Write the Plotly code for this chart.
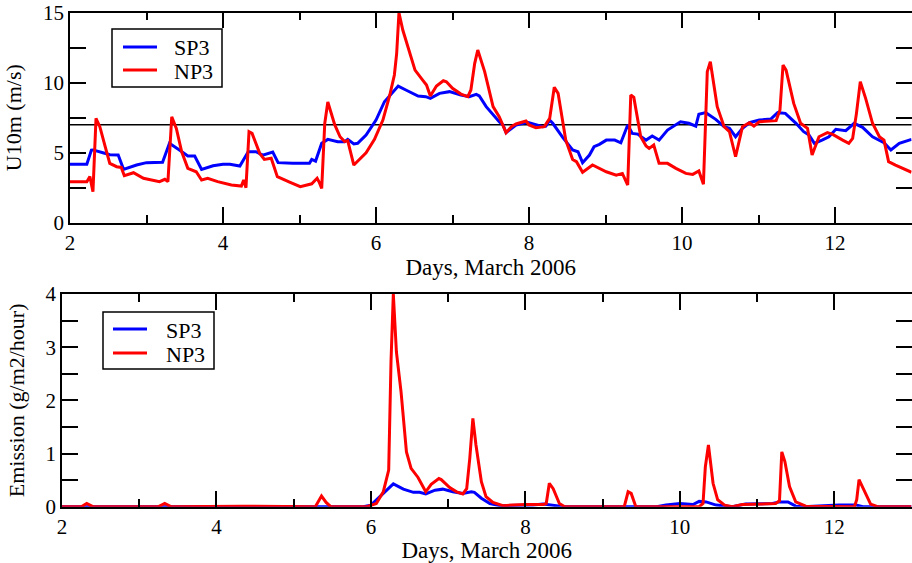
import plotly.graph_objects as go

# ---------------- data ----------------
sp3_u_days = [2.0, 2.22, 2.28, 2.30, 2.43, 2.52, 2.63, 2.70, 2.87, 3.0, 3.21, 3.30, 3.43, 3.54, 3.63,
              3.72, 3.87, 4.0, 4.09, 4.22, 4.33, 4.43, 4.52, 4.61, 4.65, 4.72, 4.91, 5.13, 5.16, 5.21,
              5.29, 5.37, 5.50, 5.59, 5.63, 5.71, 5.76, 5.87, 6.0, 6.11, 6.29, 6.39, 6.55, 6.65, 6.71,
              6.83, 6.96, 7.11, 7.22, 7.31, 7.35, 7.44, 7.55, 7.61, 7.66, 7.70, 7.83, 7.98, 8.18, 8.22,
              8.27, 8.31, 8.44, 8.57, 8.64, 8.70, 8.79, 8.85, 8.92, 9.01, 9.12, 9.20, 9.29, 9.35, 9.42,
              9.53, 9.61, 9.70, 9.81, 9.98, 10.09, 10.18, 10.22, 10.31, 10.44, 10.55, 10.62, 10.70,
              10.79, 10.88, 11.01, 11.16, 11.25, 11.35, 11.49, 11.59, 11.66, 11.73, 11.83, 11.92,
              12.01, 12.14, 12.25, 12.36, 12.49, 12.60, 12.64, 12.73, 12.84, 13.0]
sp3_u10 = [4.17, 4.17, 5.19, 5.20, 5.0, 4.85, 4.83, 3.81, 4.12, 4.29, 4.31, 5.67, 5.19, 4.76, 4.76,
           3.81, 4.07, 4.17, 4.17, 4.05, 5.07, 5.07, 4.83, 5.0, 5.05, 4.29, 4.24, 4.24, 4.52, 4.40,
           5.67, 5.95, 5.79, 5.79, 5.95, 5.62, 5.67, 6.26, 7.33, 8.64, 9.76, 9.48, 9.05, 9.0, 8.88,
           9.24, 9.36, 9.12, 9.0, 9.17, 9.05, 8.29, 7.57, 7.21, 6.98, 6.43, 6.98, 7.17, 6.86, 6.9,
           7.33, 7.1, 6.10, 5.19, 5.07, 4.29, 4.83, 5.43, 5.6, 5.9, 5.9, 5.71, 6.98, 6.38, 6.33,
           5.9, 6.19, 5.9, 6.62, 7.21, 7.1, 6.9, 7.75, 7.86, 7.38, 6.86, 6.74, 6.14,
           6.74, 7.14, 7.33, 7.4, 7.86, 7.81, 7.10, 6.5, 6.26, 5.67, 5.9, 6.14,
           6.67, 6.57, 7.10, 6.81, 6.14, 5.79, 5.71, 5.19, 5.67, 5.95]

np3_u_days = [2.0, 2.22, 2.26, 2.30, 2.34, 2.39, 2.46, 2.52, 2.61, 2.67, 2.71, 2.83, 2.96, 3.17, 3.24,
              3.28, 3.33, 3.39, 3.46, 3.54, 3.65, 3.72, 3.80, 3.93, 4.11, 4.24, 4.27, 4.30, 4.34, 4.38,
              4.48, 4.54, 4.63, 4.71, 4.87, 5.01, 5.16, 5.23, 5.26, 5.29, 5.33, 5.37, 5.46, 5.53, 5.59,
              5.63, 5.71, 5.87, 5.98, 6.09, 6.18, 6.24, 6.27, 6.30, 6.35, 6.51, 6.61, 6.66, 6.71, 6.79,
              6.88, 6.92, 7.00, 7.11, 7.20, 7.24, 7.29, 7.33, 7.42, 7.53, 7.61, 7.66, 7.70, 7.77, 7.83,
              7.96, 8.0, 8.09, 8.20, 8.27, 8.33, 8.38, 8.48, 8.57, 8.62, 8.70, 8.83, 9.01, 9.14, 9.22,
              9.29, 9.33, 9.37, 9.46, 9.53, 9.57, 9.63, 9.70, 9.81, 9.92, 10.05, 10.14, 10.22, 10.28,
              10.33, 10.37, 10.46, 10.55, 10.62, 10.70, 10.79, 10.88, 10.94, 11.01, 11.23, 11.28,
              11.32, 11.36, 11.46, 11.55, 11.64, 11.70, 11.79, 11.90, 11.97, 12.10, 12.18, 12.23,
              12.28, 12.33, 12.40, 12.49, 12.58, 12.64, 12.70, 12.79, 13.0]
np3_u10 = [2.93, 2.93, 3.29, 2.21, 7.45, 6.86, 5.43, 4.24, 4.0, 3.95, 3.36, 3.57, 3.17, 2.93, 3.1,
           2.93, 7.57, 6.74, 5.07, 3.88, 3.64, 3.05, 3.17, 2.93, 2.69, 2.62, 3.05, 2.5, 6.5, 6.38,
           4.95, 4.52, 4.6, 3.29, 2.90, 2.57, 2.78, 3.17, 2.86, 2.45, 7.1, 8.62, 7.0, 6.14, 5.79,
           5.86, 4.12, 5.0, 5.95, 7.33, 9.12, 10.55, 12.1, 15.0, 13.76, 10.9, 10.19, 9.83, 9.05, 9.76,
           10.14, 10.07, 9.6, 9.19, 9.0, 9.48, 11.38, 12.33, 10.79, 8.29, 7.57, 6.98, 6.43, 6.86, 7.05,
           7.26, 6.98, 6.79, 6.86, 7.45, 9.67, 9.24, 5.90, 4.52, 4.36, 3.6, 4.12, 3.64, 3.40, 3.52,
           2.69, 9.12, 8.95, 6.14, 5.48, 5.31, 5.55, 4.24, 4.24, 3.88, 3.52, 3.45, 3.69, 2.75,
           10.79, 11.5, 8.29, 6.86, 6.5, 4.71, 6.86, 7.14, 6.9, 7.21, 7.29, 8.05,
           11.26, 10.9, 8.52, 7.10, 6.74, 4.83, 6.14, 6.43, 6.31, 5.90, 5.67, 6.02,
           7.81, 10.07, 8.88, 7.10, 6.14, 5.90, 4.36, 4.12, 3.6]

sp3_e_days = [2.0, 5.9, 6.0, 6.12, 6.20, 6.29, 6.42, 6.55, 6.63, 6.71, 6.83, 6.93, 7.06, 7.19, 7.30,
              7.34, 7.43, 7.54, 7.67, 7.9, 8.1, 8.23, 8.35, 8.5, 9.7, 9.82, 10.0, 10.17, 10.25, 10.34,
              10.47, 10.68, 10.85, 11.20, 11.29, 11.40, 11.50, 11.6, 12.06, 12.28, 12.37, 13.0]
sp3_emis = [0.0, 0.0, 0.03, 0.19, 0.31, 0.43, 0.33, 0.27, 0.27, 0.24, 0.31, 0.33, 0.28, 0.25, 0.28,
            0.27, 0.16, 0.06, 0.02, 0.03, 0.03, 0.05, 0.03, 0.0, 0.0, 0.03, 0.06, 0.04, 0.10, 0.09,
            0.03, 0.0, 0.05, 0.06, 0.09, 0.09, 0.01, 0.0, 0.03, 0.03, 0.0, 0.0]

np3_e_days = [2.0, 2.25, 2.32, 2.40, 3.25, 3.33, 3.41, 4.34, 5.28, 5.31, 5.36, 5.42, 5.48, 5.95, 6.0,
              6.07, 6.16, 6.23, 6.26, 6.29, 6.33, 6.39, 6.46, 6.52, 6.61, 6.71, 6.78, 6.88, 6.91, 7.02,
              7.11, 7.19, 7.24, 7.28, 7.32, 7.36, 7.43, 7.49, 7.58, 7.71, 7.84, 8.0, 8.23, 8.27, 8.31,
              8.36, 8.44, 8.51, 9.28, 9.33, 9.37, 9.43, 10.25, 10.30, 10.33, 10.37, 10.43, 10.49,
              10.58, 10.68, 10.81, 11.24, 11.29, 11.32, 11.36, 11.42, 11.50, 11.63, 12.26, 12.29,
              12.32, 12.39, 12.47, 12.56, 13.0]
np3_emis = [0.0, 0.0, 0.06, 0.0, 0.0, 0.06, 0.0, 0.01, 0.0, 0.07, 0.2, 0.08, 0.0, 0.0, 0.02,
            0.06, 0.28, 0.69, 2.73, 4.0, 2.91, 2.16, 1.03, 0.72, 0.55, 0.28, 0.42, 0.53, 0.51, 0.36,
            0.28, 0.24, 0.34, 0.91, 1.66, 1.16, 0.47, 0.19, 0.08, 0.02, 0.03, 0.04, 0.04, 0.06, 0.44,
            0.34, 0.06, 0.0, 0.0, 0.28, 0.25, 0.0, 0.0, 0.06, 0.75, 1.16, 0.44, 0.13,
            0.03, 0.0, 0.04, 0.06, 0.11, 1.03, 0.85, 0.38, 0.09, 0.01, 0.0, 0.13,
            0.51, 0.31, 0.05, 0.0, 0.0]

series_names = ["SP3", "NP3"]
threshold = 7
x_title = "Days, March 2006"
y1_title = "U10m (m/s)"
y2_title = "Emission (g/m2/hour)"

# ---------------- figure ----------------
W, H = 912, 563
FONT = "Liberation Serif"
BLUE, RED = "#0000ff", "#ff0000"
COLORS = [BLUE, RED]


def px_x(p):
    return p / W


def px_y(p):
    return 1 - p / H


fig = go.Figure()
fig.add_trace(go.Scatter(x=sp3_u_days, y=sp3_u10, name=series_names[0], mode="lines",
                         line=dict(color=BLUE, width=3), xaxis="x", yaxis="y", showlegend=False))
fig.add_trace(go.Scatter(x=np3_u_days, y=np3_u10, name=series_names[1], mode="lines",
                         line=dict(color=RED, width=3), xaxis="x", yaxis="y", showlegend=False))
fig.add_trace(go.Scatter(x=sp3_e_days, y=sp3_emis, name=series_names[0], mode="lines",
                         line=dict(color=BLUE, width=3), xaxis="x2", yaxis="y2", showlegend=False))
fig.add_trace(go.Scatter(x=np3_e_days, y=np3_emis, name=series_names[1], mode="lines",
                         line=dict(color=RED, width=3), xaxis="x2", yaxis="y2", showlegend=False))

fig.add_shape(type="line", xref="x domain", yref="y", x0=0, x1=1, y0=threshold, y1=threshold,
              line=dict(color="black", width=1.5), layer="below")

# legend boxes (drawn in paper coordinates): (box left, top, right, bottom, sample x0, x1, text x, row ys)
legend_boxes = [
    (112, 29, 222, 87, 123, 157, 172, [47, 70]),
    (103, 312, 214, 369, 113, 147, 164, [329, 353]),
]
for (bl, bt, br, bb, sx0, sx1, tx, rows) in legend_boxes:
    fig.add_shape(type="rect", xref="paper", yref="paper",
                  x0=px_x(bl), x1=px_x(br), y0=px_y(bb), y1=px_y(bt),
                  line=dict(color="black", width=1.5), fillcolor="white", layer="above")
    for name, col, ry in zip(series_names, COLORS, rows):
        fig.add_shape(type="line", xref="paper", yref="paper",
                      x0=px_x(sx0), x1=px_x(sx1), y0=px_y(ry), y1=px_y(ry),
                      line=dict(color=col, width=3), layer="above")
        fig.add_annotation(xref="paper", yref="paper", x=px_x(tx), y=px_y(ry + 1),
                           xanchor="left", yanchor="middle", showarrow=False, text=name,
                           font=dict(family=FONT, size=22, color="black"))

common_axis = dict(showline=True, linecolor="black", linewidth=1.5, mirror="ticks",
                   ticks="inside", tickcolor="black", tickwidth=1.5, showgrid=False,
                   zeroline=False, automargin=False,
                   tickfont=dict(family=FONT, size=21, color="black"))

fig.update_layout(
    width=W, height=H,
    margin=dict(l=0, r=0, t=0, b=0, autoexpand=False),
    paper_bgcolor="white", plot_bgcolor="white",
    font=dict(family=FONT, color="black"),
    showlegend=False,
    xaxis=dict(domain=[px_x(70), 0.9995], range=[2, 13], anchor="y", tick0=2, dtick=2, ticklen=16,
               minor=dict(ticks="inside", dtick=1, ticklen=8, tickcolor="black", tickwidth=1.5),
               title=dict(text=x_title, font=dict(family=FONT, size=23), standoff=0),
               **common_axis),
    yaxis=dict(domain=[px_y(222.7), px_y(12.7)], range=[0, 15], anchor="x", tick0=0, dtick=5,
               ticklen=16,
               minor=dict(ticks="inside", dtick=2.5, ticklen=16, tickcolor="black", tickwidth=1.5),
               title=dict(text=y1_title, font=dict(family=FONT, size=22), standoff=15),
               **common_axis),
    xaxis2=dict(domain=[px_x(62), 0.9995], range=[2, 13], anchor="y2", tick0=2, dtick=2, ticklen=16,
                minor=dict(ticks="inside", dtick=1, ticklen=8, tickcolor="black", tickwidth=1.5),
                title=dict(text=x_title, font=dict(family=FONT, size=23), standoff=0),
                **common_axis),
    yaxis2=dict(domain=[px_y(506.7), px_y(294)], range=[0, 4], anchor="x2", tick0=0, dtick=1,
                ticklen=16,
                minor=dict(ticks="inside", dtick=0.5, ticklen=16, tickcolor="black", tickwidth=1.5),
                title=dict(text=y2_title, font=dict(family=FONT, size=22), standoff=15),
                **common_axis),
)

fig.write_html("out.html")
